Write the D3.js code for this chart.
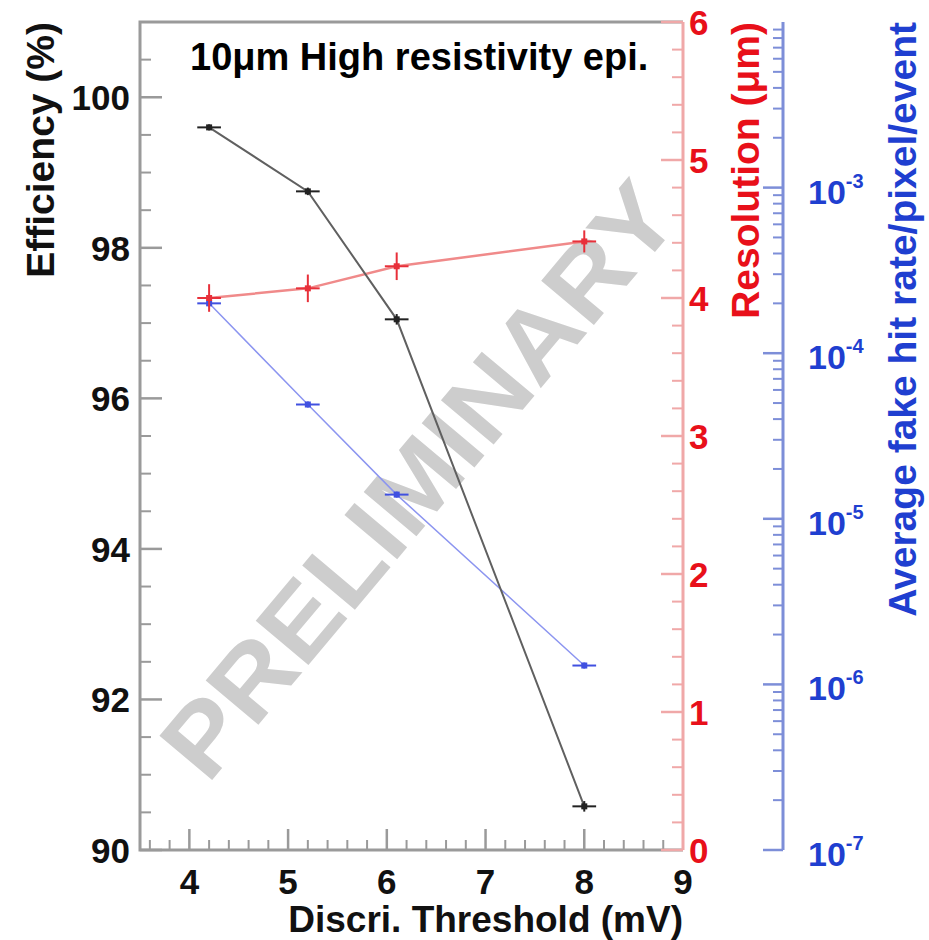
<!DOCTYPE html>
<html>
<head>
<meta charset="utf-8">
<script src="https://cdn.jsdelivr.net/npm/d3@7"></script>
<style>
  body { margin: 0; background: #fff; }
  text { font-family: "Liberation Sans", Arial, sans-serif; font-weight: bold; }
</style>
</head>
<body>
<svg id="chart" width="929" height="940"></svg>
<script>
// data
var thresholds = [4.2, 5.2, 6.1, 8.0];
var thresholdErr = [0.12, 0.12, 0.12, 0.12];
var efficiency = [99.6, 98.75, 97.05, 90.58];
var efficiencyErr = [0.04, 0.05, 0.07, 0.07];
var resolution = [4.0, 4.07, 4.23, 4.41];
var resolutionErr = [0.1, 0.1, 0.1, 0.08];
var fakeRate = [2.0e-4, 4.9e-5, 1.4e-5, 1.3e-6];

var xTicks = [4, 5, 6, 7, 8, 9];
var effTicks = [90, 92, 94, 96, 98, 100];
var resTicks = [0, 1, 2, 3, 4, 5, 6];
var rateTicks = [1e-7, 1e-6, 1e-5, 1e-4, 1e-3];
var rateExp = ["-7", "-6", "-5", "-4", "-3"];

var svg = d3.select("#chart");

var padL = 140, padR = 683, padT = 22, padB = 850, blueX = 783;

var x = d3.scaleLinear().domain([3.5, 9]).range([padL, padR]);
var yEff = d3.scaleLinear().domain([90, 101]).range([padB, padT]);
var yRes = d3.scaleLinear().domain([0, 6]).range([padB, padT]);
var yRate = d3.scaleLog().domain([1e-7, 1e-2]).range([padB, padT]);

var grey = "#9a9a9a", pink = "#f0a8a8", red = "#e8101a", blueAx = "#7d8ed8", blue = "#1f3fd0";

// watermark
svg.append("text")
    .attr("transform", "translate(425,485) rotate(-50)")
    .attr("text-anchor", "middle")
    .attr("dominant-baseline", "middle")
    .attr("font-size", 100)
    .attr("textLength", 740)
    .attr("lengthAdjust", "spacingAndGlyphs")
    .attr("fill", "#cdcdcd")
    .text("PRELIMINARY");

// frame (top, left, bottom)
svg.append("path")
    .attr("d", "M" + padR + "," + padT + "H" + padL + "V" + padB + "H" + padR)
    .attr("fill", "none").attr("stroke", grey).attr("stroke-width", 3);

// bottom axis ticks
var xMinor = d3.range(3.6, 9.0, 0.2).filter(function (v) { return Math.abs(v - Math.round(v)) > 0.01; });
svg.append("g").selectAll("line").data(xMinor).enter().append("line")
    .attr("x1", function (d) { return x(d); }).attr("x2", function (d) { return x(d); })
    .attr("y1", padB).attr("y2", padB - 10)
    .attr("stroke", grey).attr("stroke-width", 2);
svg.append("g").selectAll("line").data(xTicks.slice(0, 5)).enter().append("line")
    .attr("x1", function (d) { return x(d); }).attr("x2", function (d) { return x(d); })
    .attr("y1", padB).attr("y2", padB - 21)
    .attr("stroke", grey).attr("stroke-width", 2.5);
svg.append("g").selectAll("text").data(xTicks).enter().append("text")
    .attr("x", function (d) { return x(d); })
    .attr("y", padB + 44)
    .attr("text-anchor", "middle")
    .attr("font-size", 35)
    .attr("fill", "#111")
    .text(function (d) { return d; });

// left axis ticks
var effMinor = d3.range(90.5, 101, 0.5).filter(function (v) { return v % 2 !== 0; });
svg.append("g").selectAll("line").data(effMinor).enter().append("line")
    .attr("x1", padL).attr("x2", padL + 11)
    .attr("y1", function (d) { return yEff(d); }).attr("y2", function (d) { return yEff(d); })
    .attr("stroke", grey).attr("stroke-width", 2);
svg.append("g").selectAll("line").data(effTicks).enter().append("line")
    .attr("x1", padL).attr("x2", padL + 22)
    .attr("y1", function (d) { return yEff(d); }).attr("y2", function (d) { return yEff(d); })
    .attr("stroke", grey).attr("stroke-width", 2.5);
svg.append("g").selectAll("text").data(effTicks).enter().append("text")
    .attr("x", padL - 10)
    .attr("y", function (d) { return yEff(d) + 13; })
    .attr("text-anchor", "end")
    .attr("font-size", 35)
    .attr("fill", "#111")
    .text(function (d) { return d; });

// red axis
svg.append("line")
    .attr("x1", padR).attr("x2", padR).attr("y1", padT).attr("y2", padB)
    .attr("stroke", pink).attr("stroke-width", 3);
var resMinor = d3.range(0.2, 6, 0.2).filter(function (v) { return Math.abs(v - Math.round(v)) > 0.01; });
svg.append("g").selectAll("line").data(resMinor).enter().append("line")
    .attr("x1", padR).attr("x2", padR - 11)
    .attr("y1", function (d) { return yRes(d); }).attr("y2", function (d) { return yRes(d); })
    .attr("stroke", pink).attr("stroke-width", 2);
svg.append("g").selectAll("line").data(resTicks).enter().append("line")
    .attr("x1", padR).attr("x2", padR - 22)
    .attr("y1", function (d) { return yRes(d); }).attr("y2", function (d) { return yRes(d); })
    .attr("stroke", pink).attr("stroke-width", 2.5);
svg.append("g").selectAll("text").data(resTicks).enter().append("text")
    .attr("x", padR + 6)
    .attr("y", function (d) { return yRes(d) + 13; })
    .attr("font-size", 35)
    .attr("fill", red)
    .text(function (d) { return d; });

// blue log axis
svg.append("line")
    .attr("x1", blueX).attr("x2", blueX).attr("y1", padT).attr("y2", padB)
    .attr("stroke", blueAx).attr("stroke-width", 3);
var rateMinor = [];
[1e-7, 1e-6, 1e-5, 1e-4, 1e-3].forEach(function (dec) {
    for (var k = 2; k <= 9; k++) rateMinor.push(dec * k);
});
svg.append("g").selectAll("line").data(rateMinor).enter().append("line")
    .attr("x1", blueX).attr("x2", blueX - 10)
    .attr("y1", function (d) { return yRate(d); }).attr("y2", function (d) { return yRate(d); })
    .attr("stroke", blueAx).attr("stroke-width", 2);
svg.append("g").selectAll("line").data(rateTicks).enter().append("line")
    .attr("x1", blueX).attr("x2", blueX - 20)
    .attr("y1", function (d) { return yRate(d); }).attr("y2", function (d) { return yRate(d); })
    .attr("stroke", blueAx).attr("stroke-width", 2.5);
var rl = svg.append("g").selectAll("text").data(rateTicks).enter().append("text")
    .attr("x", blueX + 25)
    .attr("y", function (d) { return yRate(d) + 16; })
    .attr("font-size", 34)
    .attr("fill", blue);
rl.append("tspan").text("10");
rl.append("tspan").attr("font-size", 20).attr("dy", -16)
    .text(function (d, i) { return rateExp[i]; });

// axis titles
svg.append("text")
    .attr("transform", "translate(54," + padT + ") rotate(-90)")
    .attr("text-anchor", "end")
    .attr("font-size", 39)
    .attr("fill", "#111")
    .text("Efficiency (%)");
svg.append("text")
    .attr("transform", "translate(759," + padT + ") rotate(-90)")
    .attr("text-anchor", "end")
    .attr("font-size", 39)
    .attr("fill", red)
    .text("Resolution (\u03bcm)");
svg.append("text")
    .attr("transform", "translate(916," + padT + ") rotate(-90)")
    .attr("text-anchor", "end")
    .attr("font-size", 39)
    .attr("fill", blue)
    .text("Average fake hit rate/pixel/event");
svg.append("text")
    .attr("x", padR)
    .attr("y", 932)
    .attr("text-anchor", "end")
    .attr("font-size", 37)
    .attr("fill", "#111")
    .text("Discri. Threshold (mV)");

// chart title
svg.append("text")
    .attr("x", 190)
    .attr("y", 70)
    .attr("font-size", 38)
    .attr("fill", "#000")
    .text("10\u03bcm High resistivity epi.");

// series
function drawSeries(yScale, values, yErrLo, yErrHi, lineColor, lineWidth, markColor) {
    var pts = thresholds.map(function (t, i) { return [x(t), yScale(values[i])]; });
    svg.append("path")
        .attr("d", d3.line()(pts))
        .attr("fill", "none").attr("stroke", lineColor).attr("stroke-width", lineWidth);
    var g = svg.append("g");
    thresholds.forEach(function (t, i) {
        g.append("line")
            .attr("x1", x(t - thresholdErr[i])).attr("x2", x(t + thresholdErr[i]))
            .attr("y1", yScale(values[i])).attr("y2", yScale(values[i]))
            .attr("stroke", markColor).attr("stroke-width", 2);
        g.append("line")
            .attr("x1", x(t)).attr("x2", x(t))
            .attr("y1", yErrLo(i)).attr("y2", yErrHi(i))
            .attr("stroke", markColor).attr("stroke-width", 2);
        g.append("rect")
            .attr("x", x(t) - 3).attr("y", yScale(values[i]) - 3)
            .attr("width", 6).attr("height", 6)
            .attr("fill", markColor);
    });
}

drawSeries(yRate, fakeRate,
    function (i) { return yRate(fakeRate[i]) - 3; },
    function (i) { return yRate(fakeRate[i]) + 3; },
    "#8c95f0", 1.5, "#4050e0");
drawSeries(yRes, resolution,
    function (i) { return yRes(resolution[i] - resolutionErr[i]); },
    function (i) { return yRes(resolution[i] + resolutionErr[i]); },
    "#f08a8a", 2.5, "#e8303a");
drawSeries(yEff, efficiency,
    function (i) { return yEff(efficiency[i] - efficiencyErr[i]); },
    function (i) { return yEff(efficiency[i] + efficiencyErr[i]); },
    "#606060", 2, "#222");
</script>
</body>
</html>
